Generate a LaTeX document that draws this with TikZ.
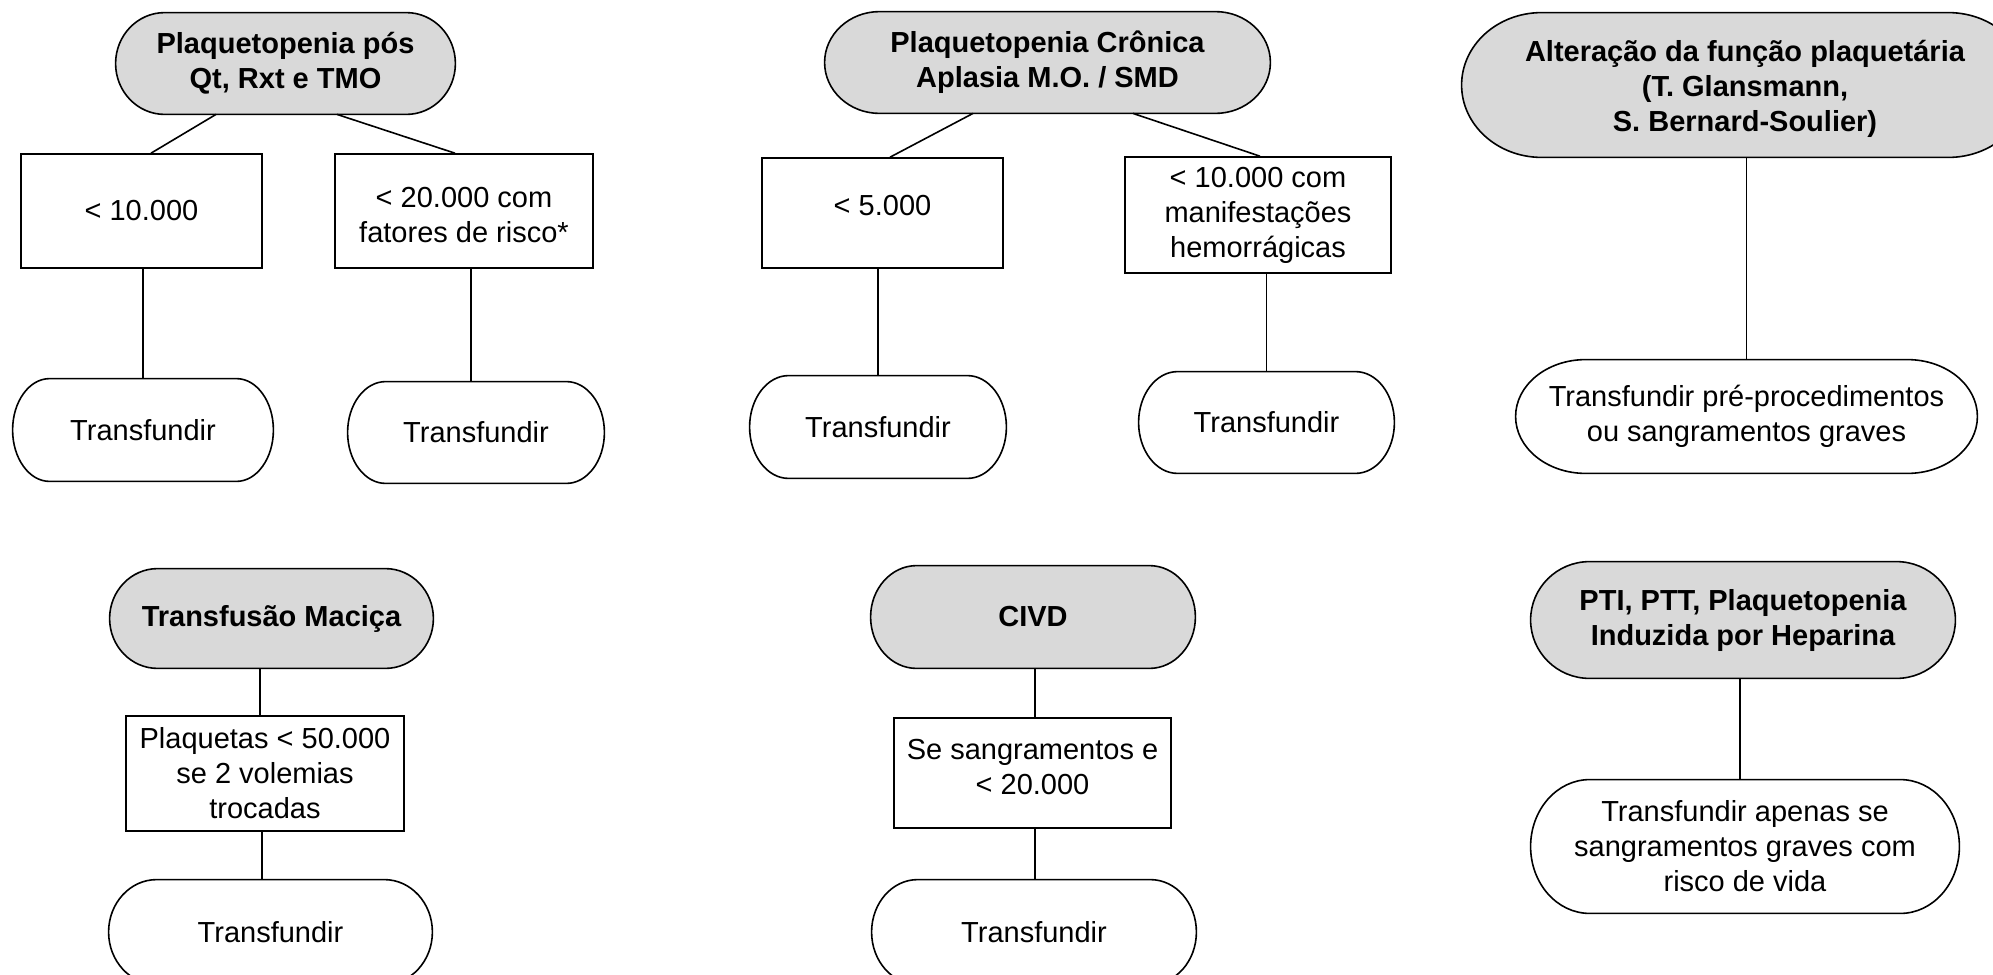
\documentclass[tikz,border=0pt]{standalone}
\usepackage{fontspec}
\setmainfont{Liberation Sans}
\usetikzlibrary{calc}
\pgfdeclarelayer{bg}
\pgfsetlayers{bg,main}
\definecolor{headgray}{HTML}{D9D9D9}
\tikzset{
  base/.style={draw=none, inner sep=0pt, align=center, font=\fontsize{14.5}{17.5}\selectfont},
  head/.style={base, font=\fontsize{14.5}{17.5}\selectfont\bfseries},
  box/.style={base, draw, line width=0.8pt},
  conn/.style={line width=0.8pt},
  dims/.style 2 args={minimum width=#1, minimum height=#2},
}
\newcommand\shifttext[2]{\raisebox{#1}[\height][\depth]{\begin{tabular}{@{}c@{}}#2\end{tabular}}}
\newcommand\stadium[3]{%
  \begin{pgfonlayer}{bg}
  \path[draw, line width=0.8pt, fill=#3] let \p1=(#1.north west), \p2=(#1.south east), \n1={(\y1-\y2)/2} in
    (\x1+#2,\y1) -- (\x2-#2,\y1) arc[start angle=90, end angle=-90, x radius=#2, y radius=\n1]
    -- (\x1+#2,\y2) arc[start angle=270, end angle=90, x radius=#2, y radius=\n1] -- cycle;
  \end{pgfonlayer}}
\begin{document}
\begin{tikzpicture}[x=0.5pt, y=-0.5pt]
\useasboundingbox (0,0) rectangle (1993,975);
\begin{pgfonlayer}{bg}
\fill[white] (0,0) rectangle (1993,975);
\end{pgfonlayer}

% Group 1
\node[head, dims={169.5pt}{50.5pt}] (N1) at (285.5,63.5) {Plaquetopenia pós\\Qt, Rxt e TMO};
\node[box, dims={120.5pt}{57pt}] (B1) at (141.5,211) {< 10.000};
\node[box, dims={129pt}{57pt}] (B2) at (464,211) {\shifttext{-3.6pt}{< 20.000 com\\fatores de risco*}};
\node[base, dims={130pt}{51pt}] (T1) at (143,430) {Transfundir};
\node[base, dims={128pt}{50.5pt}] (T2) at (476,432.5) {Transfundir};
\stadium{N1}{24.5pt}{headgray}
\stadium{T1}{18.5pt}{white}
\stadium{T2}{19pt}{white}
\draw[conn] ([xshift=-34.75pt]N1.south) -- ([xshift=4.75pt]B1.north);
\draw[conn] ([xshift=25.75pt]N1.south) -- ([xshift=-4.5pt]B2.north);
\draw[conn] (T1.north) -- (T1.north |- B1.south);
\draw[conn] ([xshift=3.5pt]B2.south) -- ([xshift=3.5pt]B2.south |- T2.north);

% Group 2
\node[head, dims={222.5pt}{50.5pt}] (N2) at (1047.5,62.5) {Plaquetopenia Crônica\\Aplasia M.O. / SMD};
\node[box, dims={120.5pt}{55pt}] (B3) at (882.5,213) {\shifttext{2.2pt}{< 5.000}};
\node[box, dims={133pt}{58pt}] (B4) at (1258,215) {< 10.000 com\\manifestações\\hemorrágicas};
\node[base, dims={128pt}{51pt}] (T3) at (878,427) {Transfundir};
\node[base, dims={127.5pt}{50.5pt}] (T4) at (1266.5,422.5) {Transfundir};
\stadium{N2}{27.5pt}{headgray}
\stadium{T3}{19.5pt}{white}
\stadium{T4}{19.5pt}{white}
\draw[conn] ([xshift=-37.25pt]N2.south) -- ([xshift=3.75pt]B3.north);
\draw[conn] ([xshift=42.75pt]N2.south) -- ([xshift=1pt]B4.north);
\draw[conn] (T3.north) -- (T3.north |- B3.south);
\draw[conn] (T4.north) -- (T4.north |- B4.south);

% Group 3
\node[head, dims={283pt}{72pt}] (N3) at (1745,85) {\shifttext{-2.2pt}{Alteração da função plaquetária\\(T. Glansmann,\\S. Bernard-Soulier)}};
\node[base, dims={230.5pt}{56.5pt}] (T5) at (1746.5,416.5) {Transfundir pré-procedimentos\\ou sangramentos graves};
\stadium{N3}{40pt}{headgray}
\stadium{T5}{35pt}{white}
\draw[conn] (T5.north) -- (T5.north |- N3.south);

% Group 4
\node[head, dims={161.5pt}{49.5pt}] (N4) at (271.5,618.5) {Transfusão Maciça};
\node[box, dims={139pt}{57.5pt}] (B5) at (265,773.5) {Plaquetas < 50.000\\se 2 volemias\\trocadas};
\node[base, dims={161.5pt}{52pt}] (T6) at (270.5,932) {Transfundir};
\stadium{N4}{24pt}{headgray}
\stadium{T6}{24pt}{white}
\draw[conn] ([xshift=-2.5pt]B5.north) -- ([xshift=-2.5pt]B5.north |- N4.south);
\draw[conn] ([xshift=-1.5pt]B5.south) -- ([xshift=-1.5pt]B5.south |- T6.north);

% Group 5
\node[head, dims={162pt}{51pt}] (N5) at (1033,617) {CIVD};
\node[box, dims={138.5pt}{55pt}] (B6) at (1032.5,773) {\shifttext{1.5pt}{Se sangramentos e\\< 20.000}};
\node[base, dims={162pt}{52pt}] (T7) at (1034,932) {Transfundir};
\stadium{N5}{23pt}{headgray}
\stadium{T7}{23pt}{white}
\draw[conn] ([xshift=1.25pt]B6.north) -- ([xshift=1.25pt]B6.north |- N5.south);
\draw[conn] ([xshift=1.25pt]B6.south) -- ([xshift=1.25pt]B6.south |- T7.north);

% Group 6
\node[head, dims={212pt}{58pt}] (N6) at (1743,620) {PTI, PTT, Plaquetopenia\\Induzida por Heparina};
\node[base, dims={214pt}{66.5pt}] (T8) at (1745,846.5) {Transfundir apenas se\\sangramentos graves com\\risco de vida};
\stadium{N6}{29.5pt}{headgray}
\stadium{T8}{29.5pt}{white}
\draw[conn] ([xshift=-2.5pt]T8.north) -- ([xshift=-2.5pt]T8.north |- N6.south);
\end{tikzpicture}
\end{document}
